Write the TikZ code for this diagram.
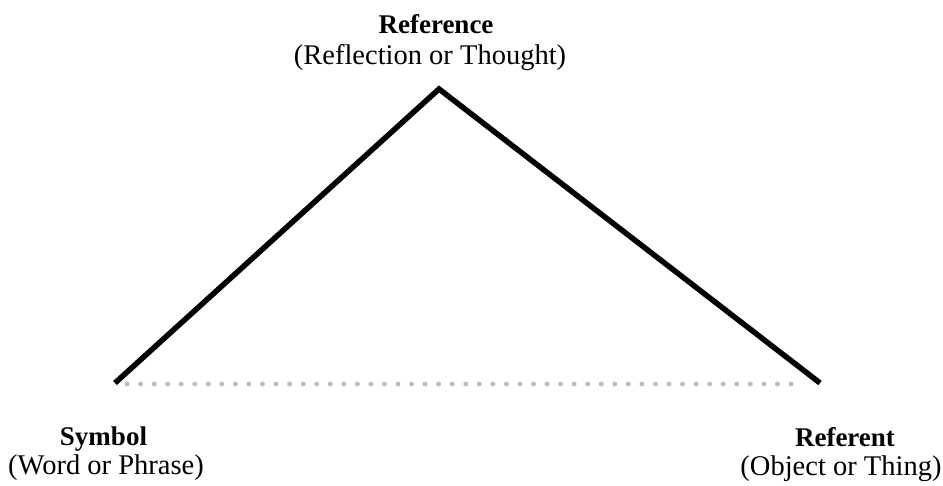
\documentclass[tikz,border=0pt]{standalone}
\usepackage{fontspec}
\setmainfont{Liberation Serif}
\begin{document}
\begin{tikzpicture}[x=1pt,y=-1pt,
  title/.style={font=\fontsize{27}{29}\selectfont\bfseries, anchor=base, inner sep=0pt},
  sub/.style={font=\fontsize{28.5}{30}\selectfont, anchor=base, inner sep=0pt},
  edge/.style={line width=5.5pt, line join=miter},
  dots/.style={draw={rgb,255:red,190;green,190;blue,190}, line width=5pt, line cap=round, dash pattern=on 0pt off 13.55pt}]
\useasboundingbox (0,0) rectangle (943,485);
\coordinate (apex) at (439,89);
\coordinate (left) at (115,383);
\coordinate (right) at (820,383);
\coordinate (d1) at (127,384);
\coordinate (d2) at (792,384);
\draw[dots] (d1) -- (d2);
\draw[edge] (left) -- (apex) -- (right);
\node[title] (reft) at (436,33) {Reference};
\node[sub] (refs) at (430,64) {(Reflection or Thought)};
\node[title] (symt) at (103.5,445) {Symbol};
\node[sub] (syms) at (106,474) {(Word or Phrase)};
\node[title] (rntt) at (845,446) {Referent};
\node[sub] (rnts) at (841,475) {(Object or Thing)};
\end{tikzpicture}
\end{document}
